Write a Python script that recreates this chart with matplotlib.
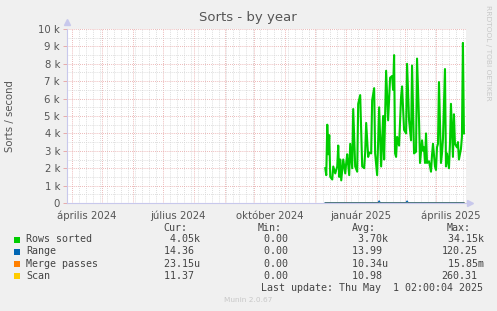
import datetime as dt
import matplotlib
matplotlib.use("Agg")
import matplotlib.pyplot as plt
import matplotlib.dates as mdates
from matplotlib.patches import Rectangle
from matplotlib.ticker import MultipleLocator, FuncFormatter, NullFormatter

# --- data -------------------------------------------------------------
start_day = dt.datetime(2024, 12, 11)
graph_end = dt.datetime(2025, 5, 1, 2, 0, 4)

rows_days = [0, 1, 2, 3, 4, 5, 7, 8, 10, 12, 13, 14, 15, 16, 18, 20, 21, 22, 24, 25,
             27, 28, 30, 32, 33, 35, 37, 39, 40, 41, 43, 44, 46, 47, 49, 50, 52, 54, 56, 58,
             59, 61, 63, 65, 67, 68, 69, 70, 71, 72, 74, 76, 77, 79, 81, 82, 84, 86, 87, 89,
             91, 92, 94, 95, 97, 98, 99, 100, 101, 102, 104, 105, 106, 107, 108, 110, 111, 112, 113, 114,
             116, 117, 118, 120, 121, 122, 124, 125, 126, 128, 129, 130, 132, 133, 134, 136, 137, 138, 139]
rows_sorted = [2000, 1600, 4500, 2800, 3900, 1500, 1350, 2100, 1700, 2100, 3300, 1500, 2500, 1300, 2500, 1700, 2300, 2800, 1600, 3400,
               2000, 5400, 2100, 1800, 5700, 6200, 2100, 2000, 2900, 4600, 2650, 2900, 2850, 5900, 6600, 2850, 1600, 5500, 2100, 5000,
               2500, 7600, 4750, 7200, 7300, 6500, 8500, 2850, 2650, 3800, 3300, 6100, 6700, 4200, 4000, 8000, 4750, 3600, 7900, 2850,
               2950, 8300, 4750, 2300, 3600, 3000, 3200, 2300, 4000, 2300, 2400, 2100, 1800, 2750, 3400, 2100, 1900, 3200, 3400, 6950,
               2300, 2850, 3700, 7700, 2100, 2850, 2000, 3400, 5700, 2650, 5100, 3400, 3200, 3500, 2500, 3100, 3800, 9200, 4000]

range_days = [0, 53, 54, 55, 81, 82, 83, 139]
range_vals = [14, 14, 115, 14, 14, 110, 14, 14]
merge_days = [0, 139]
merge_vals = [0.00001, 0.00002]
scan_days = [0, 139]
scan_vals = [11, 11]

series_names = ["Rows sorted", "Range", "Merge passes", "Scan"]
series_colors = ["#00CC00", "#0066B3", "#FF8000", "#FFCC00"]
cur_vals = [(4.05, "k"), (14.36, ""), (23.15, "u"), (11.37, "")]
min_vals = [(0.0, ""), (0.0, ""), (0.0, ""), (0.0, "")]
avg_vals = [(3.70, "k"), (13.99, ""), (10.34, "u"), (10.98, "")]
max_vals = [(34.15, "k"), (120.25, ""), (15.85, "m"), (260.31, "")]

quarter_labels = ["április 2024", "július 2024", "október 2024", "január 2025", "április 2025"]
quarter_dates = [dt.datetime(2024, 4, 16), dt.datetime(2024, 7, 16), dt.datetime(2024, 10, 16),
                 dt.datetime(2025, 1, 16), dt.datetime(2025, 4, 16)]

# --- figure -----------------------------------------------------------
W, H = 497, 311
fig = plt.figure(figsize=(W / 100, H / 100), dpi=100, facecolor="#F0F0F0")
ax = fig.add_axes([67 / W, 108 / H, 399 / W, 174 / H])
ax.set_facecolor("white")


def fx(x):
    return x / W


def fy(y):
    return 1 - y / H


def to_dates(days):
    return [start_day + dt.timedelta(days=d) for d in days]


# range spikes sit under the merge/scan baseline lines
ax.plot(to_dates(rows_days), rows_sorted, color=series_colors[0], lw=1.5, zorder=3)
ax.plot(to_dates(range_days), range_vals, color=series_colors[1], lw=1.0, zorder=4)
ax.plot(to_dates(merge_days), merge_vals, color=series_colors[2], lw=1.0, zorder=5)
ax.plot(to_dates(scan_days), scan_vals, color=series_colors[3], lw=1.0, zorder=6, alpha=0.6)

ax.set_xlim(graph_end - dt.timedelta(days=400), graph_end)
ax.set_ylim(0, 10000)

# grid
major_c = "#E6A0A0"
minor_c = "#D2D2D2"
ax.xaxis.set_major_locator(mdates.MonthLocator())
ax.xaxis.set_minor_locator(mdates.WeekdayLocator(byweekday=mdates.MO))
ax.xaxis.set_major_formatter(NullFormatter())
ax.yaxis.set_major_locator(MultipleLocator(1000))
ax.yaxis.set_minor_locator(MultipleLocator(500))
ax.grid(True, which="minor", color=minor_c, lw=0.6, ls=(0, (1, 1.5)))
ax.grid(True, which="major", color=major_c, lw=0.6, ls=(0, (1, 1.5)))
ax.set_axisbelow(True)

ax.yaxis.set_major_formatter(FuncFormatter(lambda v, p: "0" if v == 0 else "%d k" % (v / 1000)))
ax.tick_params(axis="y", which="major", length=3, width=0.6, color=major_c,
               labelsize=7.3, labelcolor="#555555", pad=2)
ax.tick_params(axis="y", which="minor", length=0)
ax.tick_params(axis="x", which="both", length=0, labelbottom=False)

for d, lab in zip(quarter_dates, quarter_labels):
    ax.text(mdates.date2num(d), -0.045, lab, transform=ax.get_xaxis_transform(),
            ha="center", va="top", fontsize=7.3, color="#555555")

for s in ["top", "right"]:
    ax.spines[s].set_visible(False)
ax.spines["left"].set_color("#C8C8EC")
ax.spines["bottom"].set_color("#C8C8EC")
ax.spines["left"].set_linewidth(0.8)
ax.spines["bottom"].set_linewidth(0.8)
ax.plot([0], [1.04], marker="^", ms=4, color="#C8C8EC", transform=ax.transAxes, clip_on=False)
ax.plot([1.01], [0], marker=">", ms=4, color="#C8C8EC", transform=ax.transAxes, clip_on=False)

ax.set_ylabel("Sorts / second", fontsize=7.3, color="#555555", labelpad=17)

fig.text(fx(248), fy(18), "Sorts - by year", ha="center", va="center", fontsize=9.5, color="#555555")
fig.text(fx(488), fy(5), "RRDTOOL / TOBI OETIKER", rotation=270, ha="center", va="top",
         fontsize=5.4, color="#C8C8C8")

# legend block
mono = "DejaVu Sans Mono"
fs = 7.2
txt_c = "#444444"
fig.text(fx(163.3), fy(228), "Cur:", family=mono, fontsize=fs, color=txt_c, va="center")
fig.text(fx(257.7), fy(228), "Min:", family=mono, fontsize=fs, color=txt_c, va="center")
fig.text(fx(352.3), fy(228), "Avg:", family=mono, fontsize=fs, color=txt_c, va="center")
fig.text(fx(446.7), fy(228), "Max:", family=mono, fontsize=fs, color=txt_c, va="center")

row_y = [239.5, 251.5, 264, 276]
for i, name in enumerate(series_names):
    y = row_y[i]
    fig.patches.append(Rectangle((fx(14), fy(y + 3)), 6 / W, 6 / H, transform=fig.transFigure,
                                 facecolor=series_colors[i], edgecolor="none"))
    fig.text(fx(26), fy(y), name, family=mono, fontsize=fs, color=txt_c, va="center")
    for base, (v, u) in zip([158, 252, 346, 441.7], [cur_vals[i], min_vals[i], avg_vals[i], max_vals[i]]):
        fig.text(fx(base), fy(y), "%6.2f%s" % (v, u), family=mono, fontsize=fs, color=txt_c, va="center")

fig.text(fx(483), fy(288), "Last update: Thu May  1 02:00:04 2025", family=mono, fontsize=fs,
         color=txt_c, ha="right", va="center")
fig.text(fx(248), fy(300), "Munin 2.0.67", fontsize=5.3, color="#C8C8C8", ha="center", va="center")

fig.savefig("out.png", dpi=100, facecolor=fig.get_facecolor())
